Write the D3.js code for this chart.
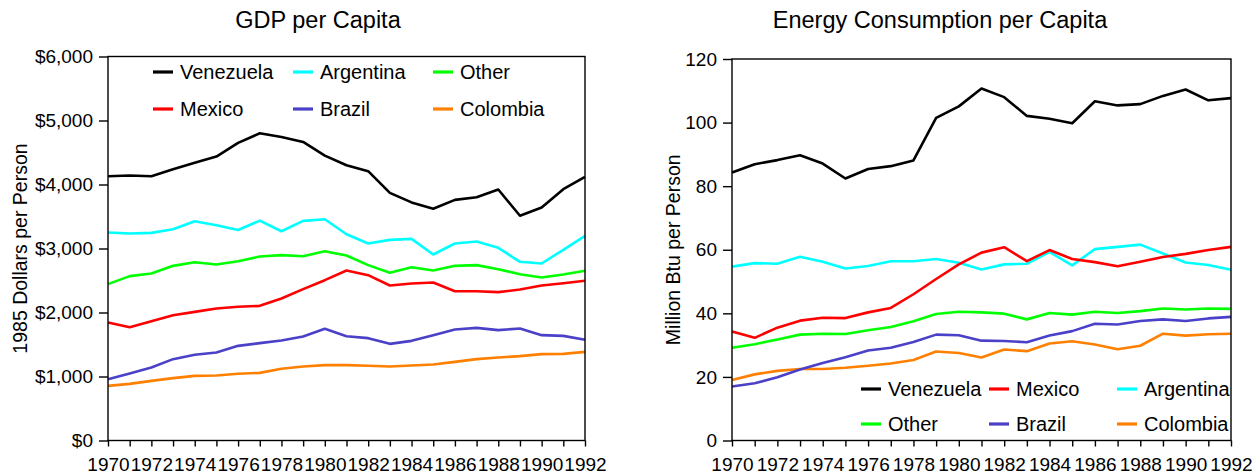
<!DOCTYPE html>
<html>
<head>
<meta charset="utf-8">
<script src="https://cdn.jsdelivr.net/npm/d3@7"></script>
<style>
  html, body { margin: 0; padding: 0; background: #fff; }
  svg { display: block; }
  text { font-family: "Liberation Sans", Arial, sans-serif; fill: #000; }
</style>
</head>
<body>
<svg id="chart" width="1260" height="476"></svg>
<script>
const years = d3.range(1970, 1993);
const yearTicks = d3.range(1970, 1993, 2);

const seriesNames = ["Venezuela", "Mexico", "Argentina", "Other", "Brazil", "Colombia"];
const seriesColors = {
  Venezuela: "#000000", Mexico: "#ff0000", Argentina: "#00ffff",
  Other: "#00ff00", Brazil: "#4b40c8", Colombia: "#ff8000"
};

// GDP per capita, 1985 dollars per person
const gdpVenezuela = [4130,4140,4130,4240,4340,4436,4650,4800,4743,4665,4452,4300,4208,3870,3720,3620,3760,3800,3922,3512,3640,3927,4120];
const gdpArgentina = [3249,3234,3244,3300,3426,3364,3290,3436,3270,3431,3457,3223,3078,3135,3150,2906,3078,3109,3010,2792,2766,2980,3197];
const gdpOther     = [2443,2568,2609,2729,2786,2750,2802,2875,2896,2880,2958,2890,2740,2620,2708,2656,2729,2740,2677,2599,2547,2594,2651];
const gdpMexico    = [1844,1771,1865,1958,2010,2062,2089,2104,2219,2365,2505,2656,2583,2422,2453,2469,2333,2333,2318,2359,2422,2458,2495];
const gdpBrazil    = [958,1047,1141,1271,1339,1375,1479,1521,1563,1625,1745,1630,1599,1510,1557,1646,1734,1760,1724,1750,1646,1635,1573];
const gdpColombia  = [854,885,932,974,1010,1016,1042,1057,1120,1156,1177,1177,1167,1156,1172,1188,1229,1271,1297,1318,1349,1354,1385];

// Energy consumption per capita, million Btu per person
const enVenezuela = [84.3,86.9,88.2,89.7,87.1,82.4,85.4,86.3,88.1,101.5,105.1,110.7,108.0,102.1,101.2,99.8,106.7,105.4,105.8,108.4,110.4,107.0,107.7];
const enMexico    = [34.3,32.3,35.5,37.7,38.6,38.5,40.3,41.7,46.0,50.8,55.4,59.1,60.8,56.4,59.9,57.1,56.1,54.8,56.2,57.7,58.7,59.9,60.9];
const enArgentina = [54.7,55.8,55.6,57.8,56.2,54.1,54.9,56.4,56.4,57.1,55.9,53.8,55.4,55.6,59.3,55.1,60.2,60.9,61.6,58.8,56.0,55.2,53.7];
const enOther     = [29.2,30.3,31.8,33.3,33.6,33.5,34.7,35.7,37.5,39.8,40.5,40.3,39.9,38.1,40.1,39.6,40.5,40.1,40.7,41.5,41.2,41.5,41.4];
const enBrazil    = [17.0,18.0,19.9,22.3,24.4,26.2,28.3,29.2,31.0,33.3,33.1,31.4,31.3,30.9,33.0,34.4,36.7,36.5,37.6,38.1,37.6,38.4,38.9];
const enColombia  = [19.0,20.8,21.9,22.5,22.5,22.9,23.5,24.2,25.3,28.0,27.5,26.1,28.6,28.1,30.5,31.2,30.2,28.7,29.8,33.6,33.0,33.4,33.6];

const gdpTicks = [0,1000,2000,3000,4000,5000,6000];
const energyTicks = [0,20,40,60,80,100,120];

const gdpSeries = {Venezuela: gdpVenezuela, Mexico: gdpMexico, Argentina: gdpArgentina, Other: gdpOther, Brazil: gdpBrazil, Colombia: gdpColombia};
const enSeries  = {Venezuela: enVenezuela, Mexico: enMexico, Argentina: enArgentina, Other: enOther, Brazil: enBrazil, Colombia: enColombia};

const svg = d3.select("#chart");
const FONT = "Liberation Sans, Arial, sans-serif";

function drawPanel(cfg) {
  const g = svg.append("g");
  const x = d3.scaleLinear().domain([1970, 1992]).range([cfg.left, cfg.right]);
  const y = d3.scaleLinear().domain([0, cfg.ymax]).range([cfg.bottom, cfg.top]);

  // title
  g.append("text").attr("x", cfg.titleX).attr("y", 28)
    .attr("text-anchor", "middle").style("font-size", "23.5px").text(cfg.title);

  // y axis title
  g.append("text")
    .attr("transform", `translate(${cfg.ylabX},${(cfg.top + cfg.bottom) / 2}) rotate(-90)`)
    .attr("text-anchor", "middle").style("font-size", "19.5px").text(cfg.ylabel);

  // lines
  const line = d3.line().x((d, i) => x(years[i])).y(d => y(d));
  cfg.order.forEach(name => {
    g.append("path").datum(cfg.series[name])
      .attr("fill", "none").attr("stroke", seriesColors[name])
      .attr("stroke-width", 2.6).attr("stroke-linejoin", "round")
      .attr("d", line);
  });

  // frame
  g.append("rect").attr("x", cfg.left).attr("y", cfg.top)
    .attr("width", cfg.right - cfg.left).attr("height", cfg.bottom - cfg.top)
    .attr("fill", "none").attr("stroke", "#000").attr("stroke-width", 1.4);

  // y axis
  const yAxis = d3.axisLeft(y).tickValues(cfg.yticks).tickSize(9).tickPadding(6)
    .tickFormat(cfg.yfmt);
  const ya = g.append("g").attr("transform", `translate(${cfg.left},0)`).call(yAxis);
  ya.select(".domain").remove();
  ya.selectAll("line").attr("stroke-width", 1.4);
  ya.selectAll("text").style("font-size", "19px").style("font-family", FONT);

  // x axis
  const xAxis = d3.axisBottom(x).tickValues(years).tickSize(6).tickPadding(11)
    .tickFormat(d => yearTicks.includes(d) ? String(d) : "");
  const xa = g.append("g").attr("transform", `translate(0,${cfg.bottom})`).call(xAxis);
  xa.select(".domain").remove();
  xa.selectAll("line").attr("stroke-width", 1.4);
  xa.selectAll("text").style("font-size", "19px").style("font-family", FONT);

  // legend
  cfg.legend.forEach(item => {
    g.append("line").attr("x1", item.x - 27).attr("x2", item.x - 7)
      .attr("y1", item.y).attr("y2", item.y)
      .attr("stroke", seriesColors[item.name]).attr("stroke-width", 3.2);
    g.append("text").attr("x", item.x).attr("y", item.y).attr("dy", "0.35em")
      .style("font-size", "20px").text(item.name);
  });
}

drawPanel({
  title: "GDP per Capita", titleX: 318, ylabel: "1985 Dollars per Person", ylabX: 27,
  left: 108, right: 585, top: 56.5, bottom: 440.5, ymax: 6000,
  yticks: gdpTicks, yfmt: d => "$" + d3.format(",")(d),
  series: gdpSeries, order: ["Colombia","Brazil","Mexico","Other","Argentina","Venezuela"],
  legend: [
    {name: "Venezuela", x: 180, y: 72}, {name: "Argentina", x: 320, y: 72}, {name: "Other", x: 460, y: 72},
    {name: "Mexico", x: 180, y: 109}, {name: "Brazil", x: 320, y: 109}, {name: "Colombia", x: 460, y: 109}
  ]
});

drawPanel({
  title: "Energy Consumption per Capita", titleX: 940, ylabel: "Million Btu per Person", ylabX: 680,
  left: 732, right: 1231, top: 59, bottom: 440.5, ymax: 120,
  yticks: energyTicks, yfmt: d => String(d),
  series: enSeries, order: ["Colombia","Brazil","Other","Argentina","Mexico","Venezuela"],
  legend: [
    {name: "Venezuela", x: 888, y: 389}, {name: "Mexico", x: 1016, y: 389}, {name: "Argentina", x: 1144, y: 389},
    {name: "Other", x: 888, y: 424}, {name: "Brazil", x: 1016, y: 424}, {name: "Colombia", x: 1144, y: 424}
  ]
});
</script>
</body>
</html>
